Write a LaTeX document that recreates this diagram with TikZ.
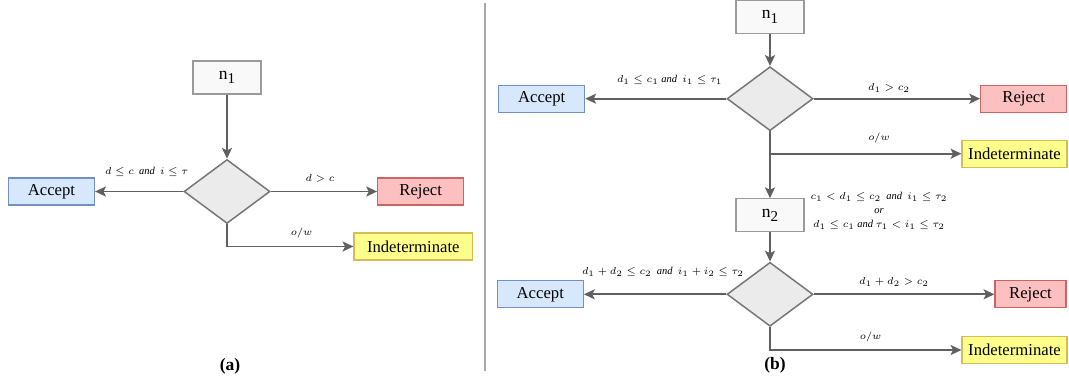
\documentclass[tikz,border=0pt]{standalone}
\usepackage{amsmath}
\usepackage{fontspec}
\setmainfont{Liberation Serif}
\usepackage{tikz}
\usetikzlibrary{shapes.geometric,arrows.meta}

\definecolor{idfill}{HTML}{F9F9F9}
\definecolor{idline}{HTML}{9A9A9A}
\definecolor{testfill}{HTML}{EBEBEB}
\definecolor{testline}{HTML}{777777}
\definecolor{acceptfill}{HTML}{D7E7FC}
\definecolor{acceptline}{HTML}{7191C4}
\definecolor{rejectfill}{HTML}{FCC0C0}
\definecolor{rejectline}{HTML}{CC6464}
\definecolor{indetfill}{HTML}{FFFF8C}
\definecolor{indetline}{HTML}{D8BA58}
\definecolor{flowline}{HTML}{606060}
\definecolor{sepline}{HTML}{AAAAAA}

\newcommand{\nid}[1]{n\raisebox{-0.55ex}{\small #1}}

\begin{document}
\begin{tikzpicture}[x=0.6pt,y=-0.6pt,
  idbox/.style={draw=idline,fill=idfill,line width=0.7pt,minimum width=40.8pt,
    minimum height=19.8pt,inner sep=0pt,font=\fontsize{10.5}{12}\selectfont},
  test/.style={diamond,draw=testline,fill=testfill,line width=0.9pt,
    minimum width=51.6pt,minimum height=38.4pt,inner sep=0pt},
  outbox/.style={draw,line width=0.7pt,minimum height=16.2pt,inner sep=0pt,
    font=\fontsize{10}{12}\selectfont},
  accept/.style={outbox,draw=acceptline,fill=acceptfill,minimum width=51.6pt},
  reject/.style={outbox,draw=rejectline,fill=rejectfill,minimum width=51.6pt},
  indet/.style={outbox,draw=indetline,fill=indetfill,minimum width=71.2pt},
  cond/.style={font=\fontsize{6.3}{8.5}\selectfont,inner sep=0pt,align=center},
  flow/.style={draw=flowline,line width=1.1pt,
    -{Stealth[length=6.5pt,width=6pt,inset=1.5pt]}},
  caption/.style={font=\fontsize{10.5}{12}\selectfont\bfseries}]
\useasboundingbox (0,0) rectangle (1069,381);

% part (a)
\node[idbox] (an1) at (227,77.5) {\nid{1}};
\node[test] (at1) at (227,191.5) {};
\node[accept] (aacc) at (51.5,191.5) {Accept};
\node[reject] (arej) at (420.7,191.5) {Reject};
\node[indet] (aind) at (413.3,246.5) {Indeterminate};
\draw[flow] (an1) -- (at1);
\draw[flow] (at1) -- (aacc);
\draw[flow] (at1) -- (arej);
\draw[flow] (at1.south) |- (aind);
\node[cond] (acond1) at (146.7,171.7) {$d \le c\ \ \mathit{and}\ \ i \le \tau$};
\node[cond] (acond2) at (320,178.3) {$d > c$};
\node[cond] (acond3) at (301.7,233.3) {$o/w$};
\node[caption] (acap) at (230,366) {(a)};

% separator
\coordinate (septop) at (485,3);
\coordinate (sepbot) at (485,371);
\draw[sepline,line width=0.9pt] (septop) -- (sepbot);

% part (b)
\node[idbox] (bn1) at (770,17) {\nid{1}};
\node[test] (bt1) at (770,98.7) {};
\node[accept] (bacc1) at (541.7,98.7) {Accept};
\node[reject] (brej1) at (1023.7,98.7) {Reject};
\node[indet,minimum width=63pt] (bind1) at (1014.5,153.7) {Indeterminate};
\node[idbox] (bn2) at (770,215.3) {\nid{2}};
\node[test] (bt2) at (770,294.3) {};
\node[accept] (bacc2) at (540.3,294.3) {Accept};
\node[reject,minimum width=42.6pt] (brej2) at (1030.5,294.3) {Reject};
\node[indet,minimum width=63pt] (bind2) at (1014.5,350) {Indeterminate};
\coordinate (bfork) at (bt1.south |- bind1.west);
\draw[flow] (bn1) -- (bt1);
\draw[flow] (bt1) -- (bacc1);
\draw[flow] (bt1) -- (brej1);
\draw[flow] (bt1) -- (bn2);
\draw[flow] (bfork) -- (bind1);
\draw[flow] (bn2) -- (bt2);
\draw[flow] (bt2) -- (bacc2);
\draw[flow] (bt2) -- (brej2);
\draw[flow] (bt2.south) |- (bind2);
\node[cond] (bcond1) at (669.7,80) {$d_1 \le c_1\ \mathit{and}\ \ i_1 \le \tau_1$};
\node[cond] (bcond2) at (889,88.3) {$d_1 > c_2$};
\node[cond] (bcond3) at (879,138.3) {$o/w$};
\node[cond] (bcond4) at (879,210.7) {$c_1 < d_1 \le c_2\ \ \mathit{and}\ \ i_1 \le \tau_2$\\
  $\mathit{or}$\\ $d_1 \le c_1\ \mathit{and}\ \tau_1 < i_1 \le \tau_2$};
\node[cond] (bcond5) at (663,272.3) {$d_1 + d_2 \le c_2\ \ \mathit{and}\ \ i_1 + i_2 \le \tau_2$};
\node[cond] (bcond6) at (894,281.7) {$d_1 + d_2 > c_2$};
\node[cond] (bcond7) at (870.7,336.7) {$o/w$};
\node[caption] (bcap) at (775,365) {(b)};

\end{tikzpicture}
\end{document}
